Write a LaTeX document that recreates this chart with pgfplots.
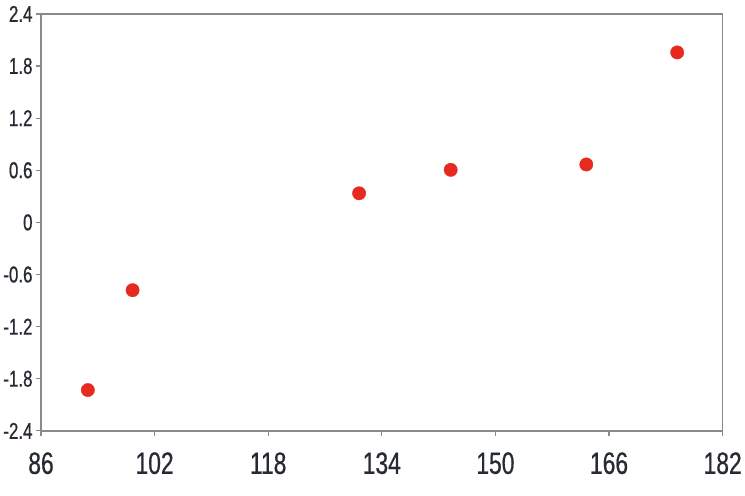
\documentclass[border=0pt]{standalone}
\usepackage{pgfplots}
\pgfplotsset{compat=1.18}
\usepackage{fontspec}
\setmainfont{Liberation Sans}[FakeStretch=0.74, FakeBold=0.6]
\definecolor{dotred}{HTML}{E62A20}
\definecolor{axisgray}{HTML}{8A8A8A}
\definecolor{labelink}{HTML}{262A33}
\begin{document}
\begin{tikzpicture}
  \begin{axis}[
    name=ax,
    scale only axis,
    width=685pt,
    height=419pt,
    xmin=86, xmax=182,
    ymin=-2.4, ymax=2.4,
    xtick={86,102,118,134,150,166,182},
    ytick={-2.4,-1.8,-1.2,-0.6,0,0.6,1.2,1.8,2.4},
    xtick pos=bottom,
    ytick pos=left,
    tick align=outside,
    major tick length=5pt,
    axis line style={axisgray, line width=1.5pt},
    tick style={axisgray, line width=1.2pt},
    /pgf/number format/assume math mode=true,
    xticklabel style={font=\fontsize{31}{31}\selectfont, text=labelink, yshift=-13pt},
    yticklabel style={font=\fontsize{23}{23}\selectfont, text=labelink},
    ]
    \addplot[only marks, mark=*, mark size=6.7pt, color=dotred] coordinates {
      (92.6, -1.93)
      (98.9, -0.78)
      (130.8, 0.335)
      (143.7, 0.605)
      (162.8, 0.667)
      (175.6, 1.957)
    };
  \end{axis}
  \path ([shift={(-41pt,-65pt)}]ax.south west) rectangle ([shift={(19pt,14pt)}]ax.north east);
\end{tikzpicture}
\end{document}
